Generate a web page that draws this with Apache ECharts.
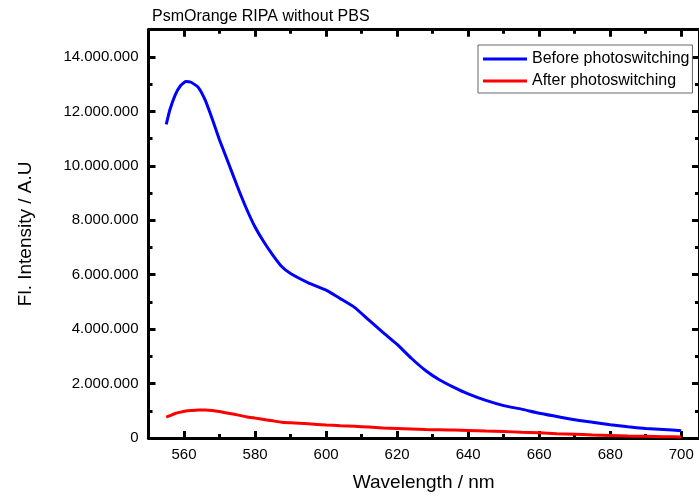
<!DOCTYPE html>
<html>
<head>
<meta charset="utf-8">
<script src="https://cdn.jsdelivr.net/npm/echarts@6/dist/echarts.min.js"></script>
<style>
  html, body { margin: 0; padding: 0; background: #fff; }
  #mychart { width: 699px; height: 497px; }
</style>
</head>
<body>
<div id="mychart"></div>
<script>
"use strict";
// wavelength in nm
const wavelengths = [555, 556, 557.5, 559, 560.5, 562, 564, 566, 568, 570, 572.5, 575, 577.5, 580, 582.5, 585, 587.5, 590, 595, 600,
    604, 608, 612, 616, 620, 624, 628, 632, 636, 640, 645, 650, 655, 660, 665, 670, 675, 680, 685, 690, 695, 700];
// intensities in millions
const beforeValues = [11.52, 12.05, 12.6, 12.94, 13.1, 13.07, 12.88, 12.4, 11.7, 10.95, 10.1, 9.25, 8.45, 7.75, 7.2, 6.72, 6.3, 6.04, 5.7, 5.43,
    5.12, 4.8, 4.34, 3.88, 3.44, 2.93, 2.48, 2.13, 1.86, 1.62, 1.38, 1.19, 1.06, 0.91, 0.79, 0.67, 0.58, 0.49, 0.41, 0.35, 0.31, 0.27];
const afterValues = [0.77, 0.82, 0.9, 0.95, 0.99, 1.01, 1.03, 1.03, 1.01, 0.97, 0.91, 0.85, 0.78, 0.73, 0.68, 0.63, 0.58, 0.56, 0.52, 0.48,
    0.45, 0.43, 0.40, 0.37, 0.35, 0.33, 0.31, 0.30, 0.29, 0.28, 0.26, 0.24, 0.21, 0.19, 0.16, 0.14, 0.11, 0.09, 0.07, 0.06, 0.05, 0.04];
const xMajorTicks = [560, 580, 600, 620, 640, 660, 680, 700];
const xMinorTicks = [570, 590, 610, 630, 650, 670, 690];
const yMajorTicks = [0, 2000000, 4000000, 6000000, 8000000, 10000000, 12000000, 14000000];
const yMinorTicks = [1000000, 3000000, 5000000, 7000000, 9000000, 11000000, 13000000];

const font = 'Liberation Sans, Arial, sans-serif';

function toPairs(values) {
    return wavelengths.map((w, i) => [w, values[i] * 1000000]);
}
function dotted(v) {
    return String(v).replace(/\B(?=(\d{3})+(?!\d))/g, '.');
}
function makeX(position, ticks, len, main) {
    return {
        type: 'value', position, min: 550, max: 705,
        axisLine: { show: main, onZero: false, lineStyle: { color: '#000', width: 3 } },
        axisTick: { inside: true, length: len, customValues: ticks, lineStyle: { color: '#000', width: 3 } },
        axisLabel: { show: false },
        splitLine: { show: false }
    };
}
function makeY(position, ticks, len, main) {
    return {
        type: 'value', position, min: 0, max: 15000000,
        axisLine: { show: main, onZero: false, lineStyle: { color: '#000', width: 3 } },
        axisTick: { inside: true, length: len, customValues: ticks, lineStyle: { color: '#000', width: 3 } },
        axisLabel: { show: false },
        splitLine: { show: false }
    };
}

const xBottom = makeX('bottom', xMajorTicks, 7, true);
xBottom.axisLabel = { show: true, customValues: xMajorTicks, fontSize: 15, fontFamily: font, color: '#000', margin: 9 };
xBottom.name = 'Wavelength / nm';
xBottom.nameLocation = 'middle';
xBottom.nameGap = 35;
xBottom.nameTextStyle = { fontSize: 19, fontFamily: font, color: '#000' };

const yLeft = makeY('left', yMajorTicks, 7, true);
yLeft.axisLabel = { show: true, customValues: yMajorTicks, fontSize: 15, fontFamily: font, color: '#000', margin: 10, formatter: dotted };
yLeft.name = 'Fl. Intensity / A.U';
yLeft.nameLocation = 'middle';
yLeft.nameRotate = 90;
yLeft.nameGap = 113;
yLeft.nameTextStyle = { fontSize: 19, fontFamily: font, color: '#000' };

const container = document.getElementById('mychart');
const myChart = echarts.init(container);
const option = {
    animation: false,
    backgroundColor: '#fff',
    title: {
        text: 'PsmOrange RIPA without PBS',
        left: 152, top: 9, padding: 0,
        textStyle: { fontSize: 16, fontWeight: 'normal', fontFamily: font, color: '#000' }
    },
    legend: {
        orient: 'vertical',
        left: 478, top: 45,
        padding: [6, 3, 4, 5],
        itemGap: 6,
        itemWidth: 44, itemHeight: 3,
        icon: 'rect',
        borderColor: '#666', borderWidth: 1,
        textStyle: { fontSize: 16, fontFamily: font, color: '#000' },
        data: ['Before photoswitching', 'After photoswitching']
    },
    grid: { left: 148.5, top: 29.7, width: 555, height: 411.6 },
    xAxis: [
        xBottom,
        makeX('bottom', xMinorTicks, 4, false),
        makeX('top', xMajorTicks, 7, true),
        makeX('top', xMinorTicks, 4, false)
    ],
    yAxis: [
        yLeft,
        makeY('left', yMinorTicks, 4, false),
        makeY('right', yMajorTicks, 7, true),
        makeY('right', yMinorTicks, 4, false)
    ],
    series: [
        {
            name: 'Before photoswitching', type: 'line', xAxisIndex: 0, yAxisIndex: 0,
            data: toPairs(beforeValues), showSymbol: false, smooth: 0.15,
            itemStyle: { color: '#0000ff' }, lineStyle: { color: '#0000ff', width: 3 }
        },
        {
            name: 'After photoswitching', type: 'line', xAxisIndex: 0, yAxisIndex: 0,
            data: toPairs(afterValues), showSymbol: false, smooth: 0.15,
            itemStyle: { color: '#ff0000' }, lineStyle: { color: '#ff0000', width: 3 }
        }
    ]
};
myChart.setOption(option);
</script>
</body>
</html>
